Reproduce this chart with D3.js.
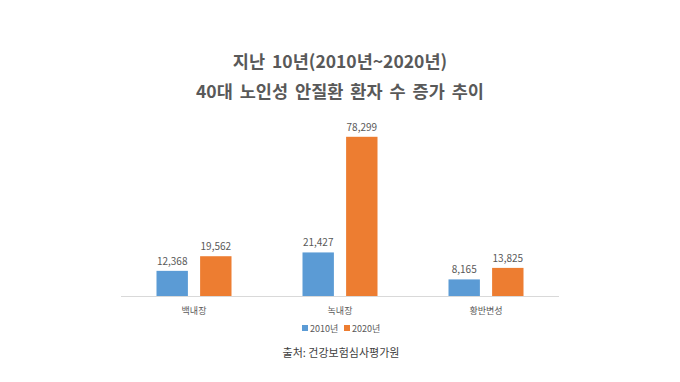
<!DOCTYPE html>
<html><head><meta charset="utf-8">
<script src="https://cdn.jsdelivr.net/npm/d3@7"></script>
<style>body{margin:0;background:#fff}svg{display:block}text{font-family:"Noto Sans CJK KR","Noto Sans",sans-serif}</style>
</head><body>
<script>
const categories = ["백내장", "녹내장", "황반변성"];
const seriesNames = ["2010년", "2020년"];
const values2010 = [12368, 21427, 8165];
const values2020 = [19562, 78299, 13825];
const titleLines = ["지난 10년(2010년~2020년)", "40대 노인성 안질환 환자 수 증가 추이"];
const sourceText = "출처: 건강보험심사평가원";
const colors = ["#5B9BD5", "#ED7D31"];

const W = 680, H = 382;
const svg = d3.select("body").append("svg").attr("width", W).attr("height", H);

const data = categories.map((c, i) => ({cat: c, vals: [values2010[i], values2020[i]]}));

const x = d3.scaleBand().domain(categories).range([121, 559]).paddingInner(0).paddingOuter(0);
const xs = d3.scaleBand().domain([0, 1]).range([0, 75]).paddingInner(0.28);
const y = d3.scaleLinear().domain([0, 90000]).range([296, 113]);
const groupOffset = (x.bandwidth() - 75) / 2;

// title
svg.selectAll("text.title").data(titleLines).enter().append("text")
  .attr("x", 340).attr("y", (d, i) => 68 + i * 30)
  .attr("text-anchor", "middle").attr("font-size", 17.5).attr("font-weight", "bold")
  .attr("word-spacing", 3)
  .attr("fill", "#595959").text(d => d);

// axis line
svg.append("line").attr("x1", 121).attr("x2", 559).attr("y1", y(0) + 0.5).attr("y2", y(0) + 0.5)
  .attr("stroke", "#d9d9d9").attr("stroke-width", 1);

const g = svg.selectAll("g.cat").data(data).enter().append("g")
  .attr("transform", d => `translate(${x(d.cat) + groupOffset},0)`);

g.selectAll("rect").data(d => d.vals).enter().append("rect")
  .attr("x", (d, i) => xs(i)).attr("width", xs.bandwidth())
  .attr("y", d => y(d)).attr("height", d => y(0) - y(d))
  .attr("fill", (d, i) => colors[i]);

g.selectAll("text.val").data(d => d.vals).enter().append("text")
  .attr("x", (d, i) => xs(i) + xs.bandwidth() / 2).attr("y", d => y(d) - 6)
  .attr("text-anchor", "middle").attr("font-size", 10).attr("fill", "#595959")
  .text(d => d3.format(",")(d));

// category labels
svg.selectAll("text.cat").data(categories).enter().append("text")
  .attr("x", d => x(d) + x.bandwidth() / 2).attr("y", 314)
  .attr("text-anchor", "middle").attr("font-size", 9).attr("fill", "#595959").text(d => d);

// legend
const legendX = [302, 344];
const lg = svg.selectAll("g.leg").data(seriesNames).enter().append("g")
  .attr("transform", (d, i) => `translate(${legendX[i]},328)`);
lg.append("rect").attr("x", 0).attr("y", -3).attr("width", 6).attr("height", 6).attr("fill", (d, i) => colors[i]);
lg.append("text").attr("x", 8).attr("y", 3.5).attr("font-size", 9).attr("fill", "#595959").text(d => d);

// source
svg.append("text").attr("x", 341).attr("y", 357).attr("text-anchor", "middle")
  .attr("font-size", 11).attr("fill", "#404040").text(sourceText);
</script>
</body></html>
